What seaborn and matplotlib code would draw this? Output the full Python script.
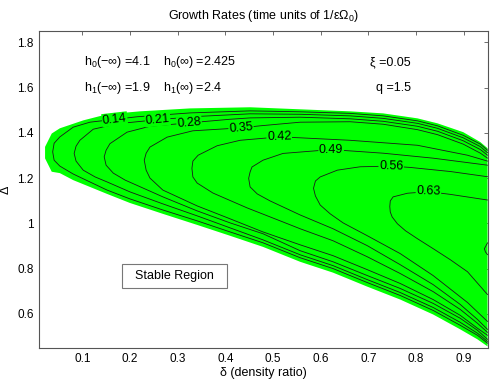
import matplotlib
matplotlib.use('Agg')
import matplotlib.pyplot as plt
import numpy as np
import seaborn as sns

# contour levels (growth rate) and where along delta each label sits
levels = [0.14, 0.21, 0.28, 0.35, 0.42, 0.49, 0.56, 0.63]
label_at = [0.168, 0.258, 0.324, 0.433, 0.513, 0.622, 0.748, 0.826]

# outer edge of the unstable region (filled green)
edge_d = [0.95, 0.935, 0.899, 0.845, 0.803, 0.731, 0.662, 0.557, 0.452, 0.326, 0.221, 0.152, 0.102, 0.053, 0.036, 0.022,
          0.022, 0.036, 0.053, 0.081, 0.116, 0.152, 0.200, 0.269, 0.341, 0.410, 0.479, 0.557, 0.626, 0.698, 0.767, 0.836, 0.893, 0.929, 0.95]
edge_D = [1.332, 1.359, 1.403, 1.442, 1.464, 1.486, 1.495, 1.504, 1.513, 1.508, 1.495, 1.482, 1.455, 1.420, 1.397, 1.338,
          1.287, 1.228, 1.222, 1.191, 1.161, 1.130, 1.090, 1.042, 0.993, 0.945, 0.896, 0.830, 0.782, 0.720, 0.663, 0.597, 0.531, 0.487, 0.456]

# contour lines: upper arm (right -> tip) then lower arm (tip -> right)
c14_d = [0.95, 0.935, 0.899, 0.845, 0.803, 0.731, 0.662, 0.557, 0.452, 0.326, 0.215, 0.169, 0.116, 0.081, 0.053, 0.041, 0.038,
         0.041, 0.053, 0.081, 0.116, 0.152, 0.200, 0.269, 0.341, 0.410, 0.479, 0.557, 0.626, 0.698, 0.767, 0.836, 0.893, 0.929, 0.95]
c14_D = [1.323, 1.350, 1.389, 1.431, 1.453, 1.475, 1.486, 1.493, 1.497, 1.488, 1.471, 1.460, 1.447, 1.425, 1.382, 1.354, 1.316,
         1.279, 1.253, 1.218, 1.183, 1.147, 1.108, 1.059, 1.011, 0.962, 0.914, 0.848, 0.800, 0.738, 0.681, 0.615, 0.549, 0.505, 0.470]

c21_d = [0.95, 0.935, 0.899, 0.845, 0.803, 0.731, 0.662, 0.557, 0.452, 0.347, 0.257, 0.173, 0.123, 0.095, 0.087, 0.083,
         0.087, 0.102, 0.127, 0.152, 0.200, 0.269, 0.341, 0.410, 0.479, 0.557, 0.626, 0.698, 0.767, 0.836, 0.893, 0.929, 0.95]
c21_D = [1.312, 1.339, 1.378, 1.420, 1.442, 1.464, 1.475, 1.482, 1.484, 1.473, 1.458, 1.440, 1.416, 1.367, 1.341, 1.309,
         1.275, 1.235, 1.205, 1.183, 1.139, 1.086, 1.033, 0.980, 0.927, 0.861, 0.813, 0.751, 0.694, 0.628, 0.562, 0.514, 0.478]

c28_d = [0.95, 0.935, 0.899, 0.845, 0.803, 0.731, 0.662, 0.557, 0.452, 0.410, 0.324, 0.242, 0.194, 0.158, 0.150, 0.146,
         0.150, 0.165, 0.190, 0.221, 0.269, 0.341, 0.410, 0.479, 0.557, 0.626, 0.698, 0.767, 0.836, 0.893, 0.929, 0.95]
c28_D = [1.301, 1.326, 1.365, 1.407, 1.429, 1.451, 1.462, 1.469, 1.466, 1.460, 1.444, 1.429, 1.403, 1.352, 1.323, 1.294,
         1.257, 1.222, 1.191, 1.162, 1.117, 1.055, 1.002, 0.954, 0.879, 0.830, 0.769, 0.712, 0.646, 0.580, 0.527, 0.487]

c35_d = [0.95, 0.935, 0.899, 0.845, 0.803, 0.731, 0.662, 0.557, 0.473, 0.433, 0.332, 0.278, 0.242, 0.234, 0.230,
         0.234, 0.242, 0.269, 0.341, 0.410, 0.479, 0.557, 0.626, 0.698, 0.767, 0.836, 0.893, 0.929, 0.95]
c35_D = [1.288, 1.310, 1.350, 1.392, 1.414, 1.438, 1.449, 1.447, 1.431, 1.422, 1.409, 1.381, 1.337, 1.310, 1.279,
         1.235, 1.200, 1.147, 1.077, 1.020, 0.962, 0.905, 0.857, 0.795, 0.734, 0.663, 0.593, 0.536, 0.505]

c42_d = [0.95, 0.908, 0.803, 0.662, 0.557, 0.513, 0.431, 0.383, 0.343, 0.332, 0.330,
         0.332, 0.341, 0.374, 0.446, 0.515, 0.557, 0.626, 0.698, 0.767, 0.836, 0.893, 0.929, 0.95]
c42_D = [1.275, 1.301, 1.345, 1.367, 1.378, 1.382, 1.367, 1.343, 1.301, 1.275, 1.243,
         1.205, 1.178, 1.134, 1.068, 1.011, 0.976, 0.923, 0.852, 0.778, 0.698, 0.619, 0.558, 0.518]

c49_d = [0.95, 0.836, 0.731, 0.622, 0.521, 0.479, 0.456, 0.452, 0.449,
         0.452, 0.467, 0.494, 0.557, 0.626, 0.698, 0.767, 0.836, 0.893, 0.929, 0.95]
c49_D = [1.257, 1.288, 1.310, 1.326, 1.309, 1.279, 1.249, 1.227, 1.199,
         1.161, 1.130, 1.099, 1.037, 0.976, 0.901, 0.817, 0.729, 0.641, 0.575, 0.531]

c56_d = [0.95, 0.872, 0.788, 0.748, 0.683, 0.635, 0.599, 0.589, 0.585,
         0.589, 0.599, 0.620, 0.647, 0.698, 0.767, 0.836, 0.908, 0.95]
c56_D = [1.206, 1.229, 1.247, 1.253, 1.250, 1.235, 1.205, 1.187, 1.155,
         1.121, 1.081, 1.042, 1.002, 0.945, 0.866, 0.769, 0.650, 0.566]

c63_d = [0.95, 0.872, 0.826, 0.782, 0.752, 0.746, 0.745,
         0.746, 0.750, 0.761, 0.778, 0.803, 0.836, 0.872, 0.908, 0.95]
c63_D = [1.103, 1.128, 1.140, 1.133, 1.117, 1.099, 1.074,
         1.050, 1.028, 0.998, 0.967, 0.932, 0.888, 0.839, 0.786, 0.685]

# small 0.70 piece touching the right edge
c70_d = [0.95, 0.9455, 0.9434, 0.9455, 0.95]
c70_D = [0.914, 0.896, 0.888, 0.874, 0.861]

sns.set_style('white')
plt.rcParams['font.family'] = ['Liberation Sans', 'DejaVu Sans']
plt.rcParams['mathtext.default'] = 'regular'
plt.rcParams['text.color'] = 'black'
plt.rcParams['axes.labelcolor'] = 'black'

fig, ax = plt.subplots(figsize=(4.98, 3.83), dpi=100)
fig.subplots_adjust(left=0.079, right=0.979, bottom=0.092, top=0.919)
ax.set_xlim(0.01, 0.95)
ax.set_ylim(0.45, 1.85)

ax.fill(edge_d, edge_D, color='#00ff00', lw=0, zorder=1)

paths = [(c14_d, c14_D), (c21_d, c21_D), (c28_d, c28_D), (c35_d, c35_D), (c42_d, c42_D),
         (c49_d, c49_D), (c56_d, c56_D), (c63_d, c63_D), (c70_d, c70_D)]
for d, D in paths:
    sns.lineplot(x=d, y=D, sort=False, estimator=None, color='#1a1a1a', lw=0.6, ax=ax, zorder=2)

# contour labels on the upper arms
for lev, (d, D), xl in zip(levels, paths, label_at):
    tip = int(np.argmin(d))
    ud = np.array(d[:tip + 1])[::-1]
    uD = np.array(D[:tip + 1])[::-1]
    yl = np.interp(xl, ud, uD)
    p1 = ax.transData.transform((xl - 0.01, np.interp(xl - 0.01, ud, uD)))
    p2 = ax.transData.transform((xl + 0.01, np.interp(xl + 0.01, ud, uD)))
    ang = np.degrees(np.arctan2(p2[1] - p1[1], p2[0] - p1[0]))
    ax.text(xl, yl, f'{lev:.2f}', rotation=ang, ha='center', va='center', fontsize=9, zorder=3,
            bbox=dict(boxstyle='square,pad=0.05', fc='#00ff00', ec='none'))

# parameter annotations
ax.text(0.10, 0.902, 'h$_0$(\u2212\u221e) =4.1', transform=ax.transAxes, fontsize=9, va='center')
ax.text(0.276, 0.902, 'h$_0$(\u221e) =2.425', transform=ax.transAxes, fontsize=9, va='center')
ax.text(0.10, 0.82, 'h$_1$(\u2212\u221e) =1.9', transform=ax.transAxes, fontsize=9, va='center')
ax.text(0.276, 0.82, 'h$_1$(\u221e) =2.4', transform=ax.transAxes, fontsize=9, va='center')
ax.text(0.737, 0.902, '\u03be =0.05', transform=ax.transAxes, fontsize=9, va='center')
ax.text(0.751, 0.82, 'q =1.5', transform=ax.transAxes, fontsize=9, va='center')
ax.text(0.3015, 0.2264, '  Stable Region  ', transform=ax.transAxes, fontsize=9, ha='center', va='center',
        bbox=dict(boxstyle='square,pad=0.45', fc='white', ec='#777777', lw=0.8))

ax.set_xticks([0.1, 0.2, 0.3, 0.4, 0.5, 0.6, 0.7, 0.8, 0.9])
ax.set_yticks([0.6, 0.8, 1.0, 1.2, 1.4, 1.6, 1.8])
ax.set_yticklabels(['0.6', '0.8', '1', '1.2', '1.4', '1.6', '1.8'])
ax.tick_params(direction='in', length=3, width=0.6, color='#555555', labelcolor='black', labelsize=8.5,
               top=True, right=True, pad=4)
for s in ax.spines.values():
    s.set_color('#555555')
    s.set_linewidth(0.8)

ax.set_title('Growth Rates (time units of 1/\u03b5\u03a9$_0$)', fontsize=9, pad=9)
ax.set_xlabel('\u03b4 (density ratio)', fontsize=9, labelpad=1)
ax.set_ylabel('\u0394', fontsize=9, labelpad=4)

fig.savefig('out.png', dpi=100)
